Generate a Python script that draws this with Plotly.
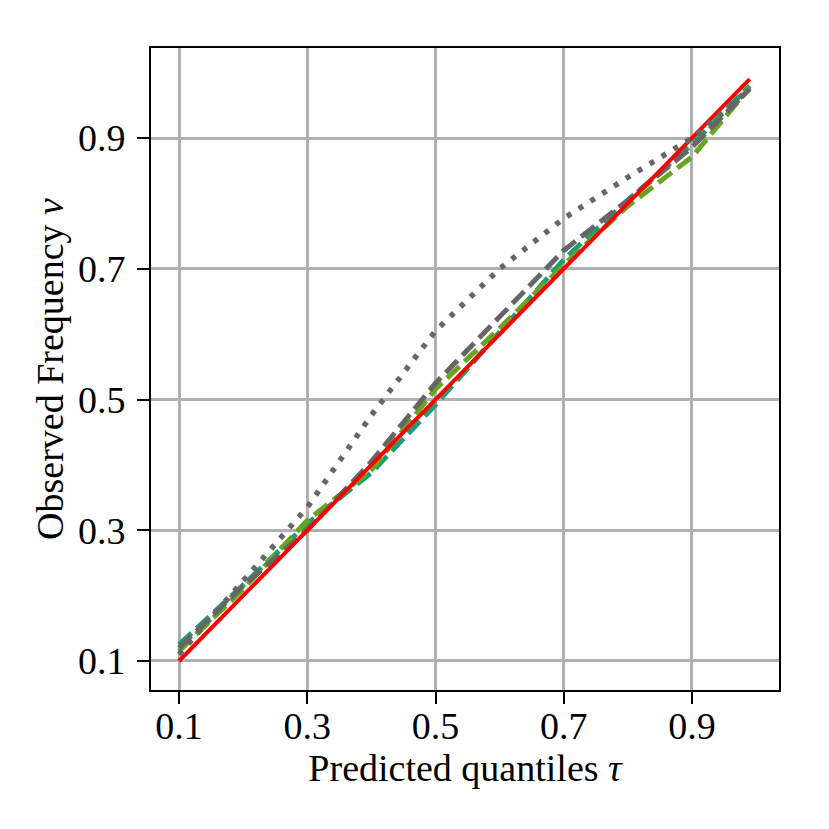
import plotly.graph_objects as go

# predicted quantile levels
tau = [0.1, 0.2, 0.3, 0.4, 0.5, 0.6, 0.7, 0.8, 0.9, 0.99]

# observed frequencies
ideal = [0.1, 0.2, 0.3, 0.4, 0.5, 0.6, 0.7, 0.8, 0.9, 0.99]
gray_dotted = [0.11, 0.222, 0.335, 0.476, 0.605, 0.700, 0.777, 0.840, 0.900, 0.975]
gray_dashed = [0.12, 0.215, 0.300, 0.405, 0.525, 0.627, 0.728, 0.805, 0.886, 0.975]
green_dashed = [0.115, 0.210, 0.315, 0.392, 0.516, 0.609, 0.706, 0.796, 0.871, 0.977]
teal_dashed = [0.125, 0.216, 0.310, 0.388, 0.492, 0.604, 0.714, 0.805, 0.890, 0.980]

tick_vals = [0.1, 0.3, 0.5, 0.7, 0.9]
tick_text = ["0.1", "0.3", "0.5", "0.7", "0.9"]

dash = "17px,7px"
fig = go.Figure()
fig.add_trace(go.Scatter(x=tau, y=teal_dashed, mode="lines", name="teal",
                         line=dict(color="#1b9e77", width=5, dash=dash)))
fig.add_trace(go.Scatter(x=tau, y=green_dashed, mode="lines", name="green",
                         line=dict(color="#66a61e", width=5, dash=dash)))
fig.add_trace(go.Scatter(x=tau, y=gray_dashed, mode="lines", name="gray",
                         line=dict(color="#666666", width=5, dash=dash)))
fig.add_trace(go.Scatter(x=tau, y=ideal, mode="lines", name="ideal",
                         line=dict(color="#ff0000", width=4)))
fig.add_trace(go.Scatter(x=tau, y=gray_dotted, mode="lines", name="dotted",
                         line=dict(color="#666666", width=5.5, dash="5px,9px")))

font = "Liberation Serif"
fsize = 38
axis_style = dict(
    showgrid=True, gridcolor="#b0b0b0", gridwidth=2.5,
    zeroline=False, showline=True, linecolor="black", linewidth=2, mirror=True,
    ticks="outside", ticklen=12, tickwidth=2, tickcolor="black",
    tickvals=tick_vals, ticktext=tick_text,
    tickfont=dict(family=font, size=fsize, color="black"),
)

fig.update_xaxes(range=[0.0563, 1.0357], ticklabelstandoff=-11,
                 title=dict(text="Predicted quantiles <i>τ</i>", standoff=7,
                            font=dict(family=font, size=fsize, color="black")),
                 **axis_style)
fig.update_yaxes(range=[0.0556, 1.0377], ticklabelstandoff=4,
                 title=dict(text="Observed Frequency <i>v</i>", standoff=3,
                            font=dict(family=font, size=fsize, color="black")),
                 **axis_style)

# page body adds an 8px offset, so the figure is 8px smaller than the window
fig.update_layout(width=821, height=821, showlegend=False,
                  plot_bgcolor="white", paper_bgcolor="white",
                  margin=dict(l=143, r=50, t=40, b=139))

fig.write_html("out.html")
